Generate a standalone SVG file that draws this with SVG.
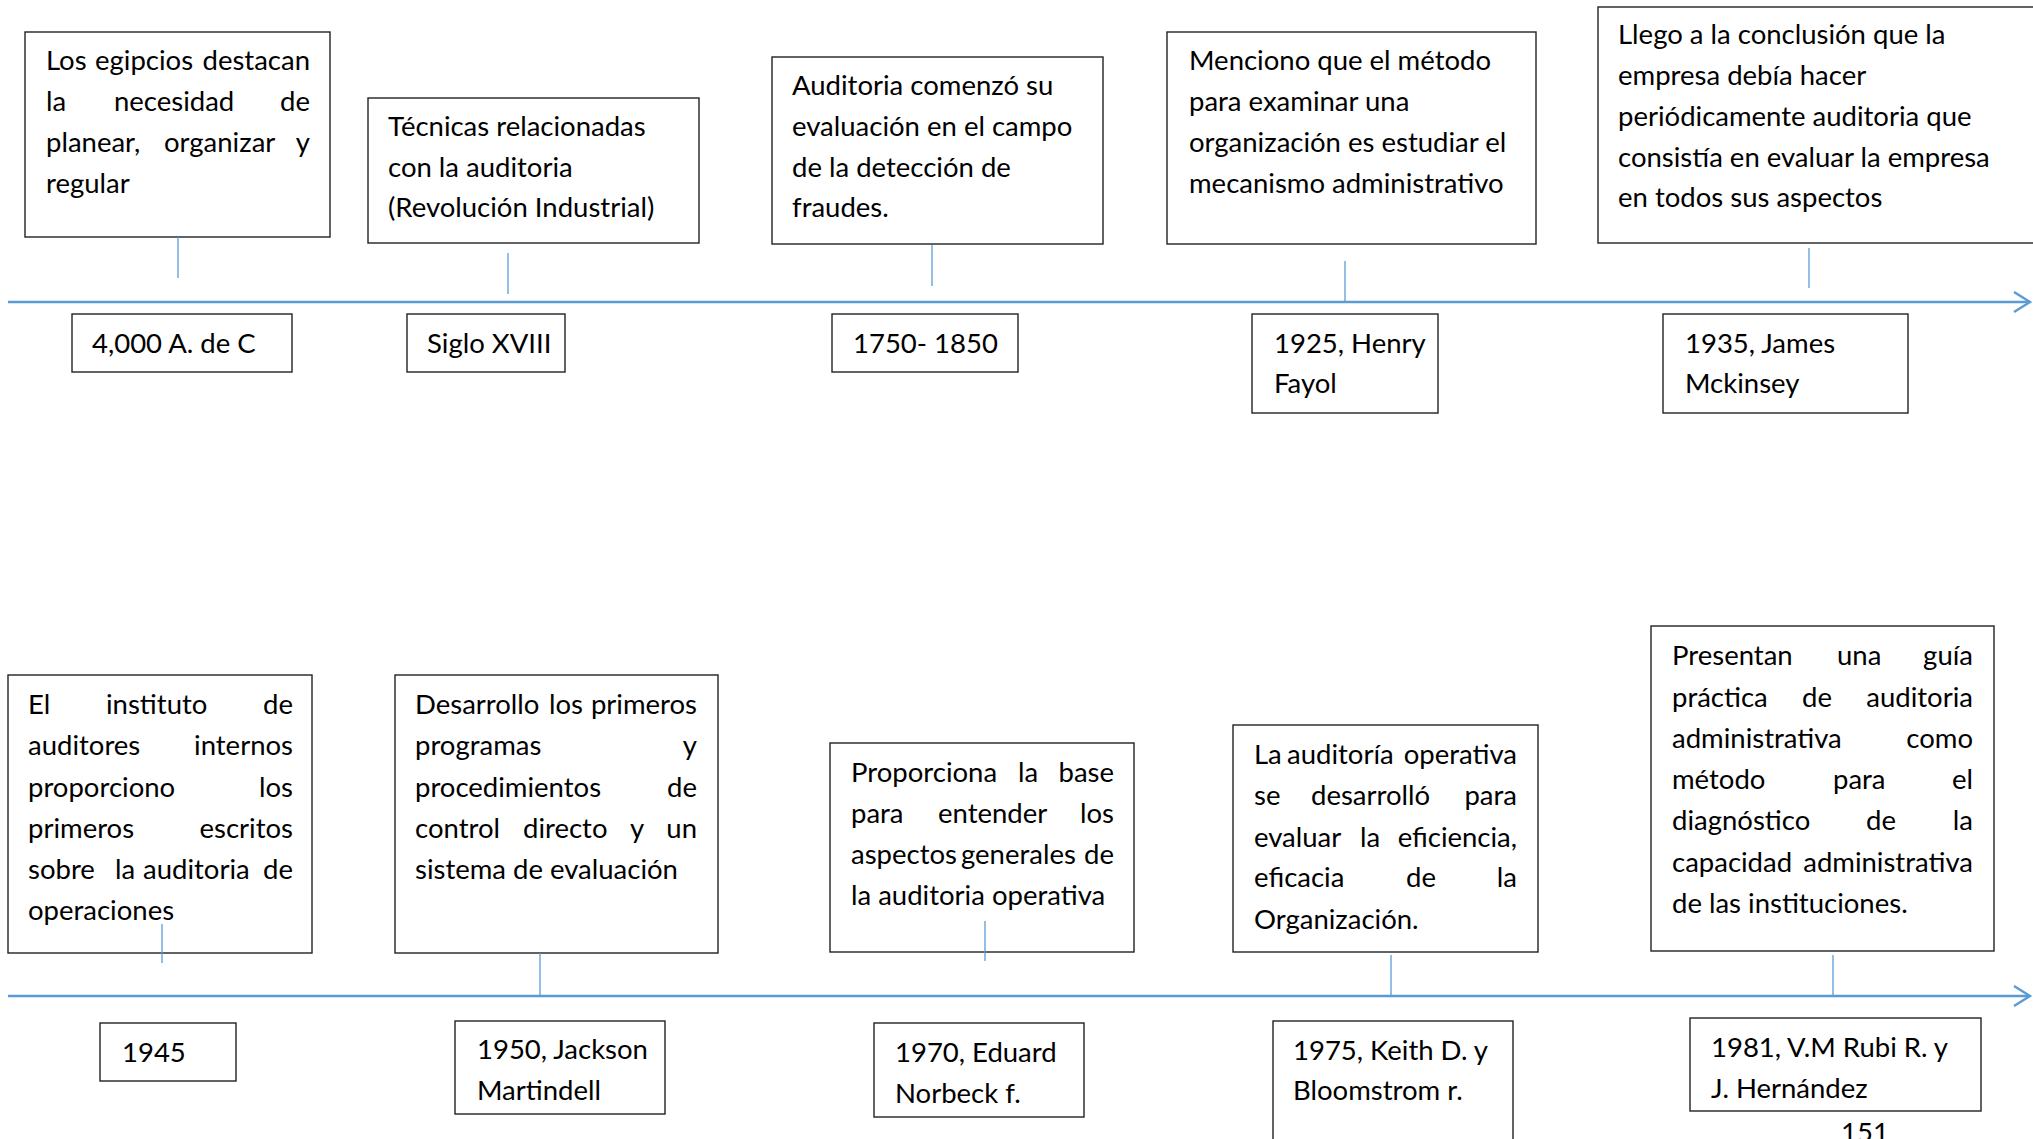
<svg xmlns="http://www.w3.org/2000/svg" width="2033" height="1139" viewBox="0 0 2033 1139">
<style>
.box{fill:#fff;stroke:#222;stroke-width:1.4}
text{font-family:Lato,"Open Sans","Liberation Sans",sans-serif;font-size:27.5px;fill:#000}
.e{text-anchor:end}
.m{text-anchor:middle}
.tl{stroke:#5B9BD5;stroke-width:2.6;fill:none}
.cn{stroke:#5B9BD5;stroke-width:1.3;fill:none}
</style>
<defs>
<marker id="arr" markerUnits="userSpaceOnUse" markerWidth="22" markerHeight="26" refX="18" refY="12" orient="auto">
<path d="M2,2 L18,12 L2,22" fill="none" stroke="#5B9BD5" stroke-width="2.4"/>
</marker>
</defs>
<rect width="2033" height="1139" fill="#fff"/>

<g id="n1">
<rect class="box" x="25" y="32" width="305" height="205"/>
<text x="46" y="70">Los</text><text x="95" y="70">egipcios</text><text class="e" x="310" y="70">destacan</text>
<text x="46" y="111">la</text><text x="114" y="111">necesidad</text><text class="e" x="310" y="111">de</text>
<text x="46" y="152">planear,</text><text x="164" y="152">organizar</text><text class="e" x="310" y="152">y</text>
<text x="46" y="193">regular</text>
</g>
<g id="n2">
<rect class="box" x="368" y="98" width="331" height="145"/>
<text x="388" y="136">Técnicas relacionadas</text>
<text x="388" y="177">con la auditoria</text>
<text x="388" y="217">(Revolución Industrial)</text>
</g>
<g id="n3">
<rect class="box" x="772" y="57" width="331" height="187"/>
<text x="792" y="95">Auditoria comenzó su</text>
<text x="792" y="136">evaluación en el campo</text>
<text x="792" y="177">de la detección de</text>
<text x="792" y="217">fraudes.</text>
</g>
<g id="n4">
<rect class="box" x="1167" y="32" width="369" height="212"/>
<text x="1189" y="70">Menciono que el método</text>
<text x="1189" y="111">para examinar una</text>
<text x="1189" y="152">organización es estudiar el</text>
<text x="1189" y="193">mecanismo administrativo</text>
</g>
<g id="n5">
<rect class="box" x="1598" y="7" width="445" height="236"/>
<text x="1618" y="44">Llego a la conclusión que la</text>
<text x="1618" y="85">empresa debía hacer</text>
<text x="1618" y="126">periódicamente auditoria que</text>
<text x="1618" y="167">consistía en evaluar la empresa</text>
<text x="1618" y="207">en todos sus aspectos</text>
</g>

<g id="d1">
<rect class="box" x="72" y="314" width="220" height="58"/>
<text x="92" y="353">4,000 A. de C</text>
</g>
<g id="d2">
<rect class="box" x="407" y="314" width="158" height="58"/>
<text x="427" y="353">Siglo XVIII</text>
</g>
<g id="d3">
<rect class="box" x="832" y="314" width="186" height="58"/>
<text x="853" y="353">1750- 1850</text>
</g>
<g id="d4">
<rect class="box" x="1252" y="314" width="186" height="99"/>
<text x="1274" y="353">1925, Henry</text>
<text x="1274" y="393">Fayol</text>
</g>
<g id="d5">
<rect class="box" x="1663" y="314" width="245" height="99"/>
<text x="1685" y="353">1935, James</text>
<text x="1685" y="393">Mckinsey</text>
</g>

<g id="n6">
<rect class="box" x="8" y="675" width="304" height="278"/>
<text x="28" y="714">El</text><text x="106" y="714">instituto</text><text class="e" x="293" y="714">de</text>
<text x="28" y="755">auditores</text><text class="e" x="293" y="755">internos</text>
<text x="28" y="797">proporciono</text><text class="e" x="293" y="797">los</text>
<text x="28" y="838">primeros</text><text class="e" x="293" y="838">escritos</text>
<text x="28" y="879">sobre</text><text x="115" y="879">la</text><text x="143" y="879">auditoria</text><text class="e" x="293" y="879">de</text>
<text x="28" y="920">operaciones</text>
</g>
<g id="n7">
<rect class="box" x="395" y="675" width="323" height="278"/>
<text x="415" y="714">Desarrollo</text><text class="m" x="566" y="714">los</text><text class="e" x="697" y="714">primeros</text>
<text x="415" y="755">programas</text><text class="e" x="697" y="755">y</text>
<text x="415" y="797">procedimientos</text><text class="e" x="697" y="797">de</text>
<text x="415" y="838">control</text><text x="523" y="838">directo</text><text x="630" y="838">y</text><text class="e" x="697" y="838">un</text>
<text x="415" y="879">sistema de evaluación</text>
</g>
<g id="n8">
<rect class="box" x="830" y="743" width="304" height="209"/>
<text x="851" y="782">Proporciona</text><text x="1018" y="782">la</text><text class="e" x="1114" y="782">base</text>
<text x="851" y="823">para</text><text x="938" y="823">entender</text><text class="e" x="1114" y="823">los</text>
<text x="851" y="864">aspectos</text><text x="961" y="864">generales</text><text class="e" x="1114" y="864">de</text>
<text x="851" y="905">la auditoria operativa</text>
</g>
<g id="n9">
<rect class="box" x="1233" y="725" width="305" height="227"/>
<text x="1254" y="764">La</text><text x="1287" y="764">auditoría</text><text class="e" x="1517" y="764">operativa</text>
<text x="1254" y="805">se</text><text x="1311" y="805">desarrolló</text><text class="e" x="1517" y="805">para</text>
<text x="1254" y="847">evaluar</text><text x="1360" y="847">la</text><text class="e" x="1517" y="847">eficiencia,</text>
<text x="1254" y="887">eficacia</text><text x="1406" y="887">de</text><text class="e" x="1517" y="887">la</text>
<text x="1254" y="929">Organización.</text>
</g>
<g id="n10">
<rect class="box" x="1651" y="626" width="343" height="325"/>
<text x="1672" y="665">Presentan</text><text x="1837" y="665">una</text><text class="e" x="1973" y="665">guía</text>
<text x="1672" y="707">práctica</text><text x="1802" y="707">de</text><text class="e" x="1973" y="707">auditoria</text>
<text x="1672" y="748">administrativa</text><text class="e" x="1973" y="748">como</text>
<text x="1672" y="789">método</text><text x="1833" y="789">para</text><text class="e" x="1973" y="789">el</text>
<text x="1672" y="830">diagnóstico</text><text x="1866" y="830">de</text><text class="e" x="1973" y="830">la</text>
<text x="1672" y="872">capacidad</text><text class="e" x="1973" y="872">administrativa</text>
<text x="1672" y="913">de las instituciones.</text>
</g>

<g id="d6">
<rect class="box" x="100" y="1023" width="136" height="58"/>
<text x="122" y="1062">1945</text>
</g>
<g id="d7">
<rect class="box" x="455" y="1021" width="210" height="93"/>
<text x="477" y="1059">1950, Jackson</text>
<text x="477" y="1100">Martindell</text>
</g>
<g id="d8">
<rect class="box" x="874" y="1023" width="210" height="94"/>
<text x="895" y="1062">1970, Eduard</text>
<text x="895" y="1103">Norbeck f.</text>
</g>
<g id="d9">
<rect class="box" x="1273" y="1021" width="240" height="130"/>
<text x="1293" y="1060">1975, Keith D. y</text>
<text x="1293" y="1100">Bloomstrom r.</text>
</g>
<g id="d10">
<rect class="box" x="1690" y="1018" width="291" height="93"/>
<text x="1711" y="1057">1981, V.M Rubi R. y</text>
<text x="1711" y="1098">J. Hernández</text>
</g>

<g id="connectors">
<line class="tl" x1="8" y1="302" x2="2030" y2="302" marker-end="url(#arr)"/>
<line class="tl" x1="8" y1="996" x2="2030" y2="996" marker-end="url(#arr)"/>
<line class="cn" x1="178" y1="237" x2="178" y2="278"/>
<line class="cn" x1="508" y1="253" x2="508" y2="294"/>
<line class="cn" x1="932" y1="245" x2="932" y2="286"/>
<line class="cn" x1="1345" y1="261" x2="1345" y2="302"/>
<line class="cn" x1="1809" y1="248" x2="1809" y2="288"/>
<line class="cn" x1="162" y1="924" x2="162" y2="963"/>
<line class="cn" x1="540" y1="953" x2="540" y2="996"/>
<line class="cn" x1="985" y1="921" x2="985" y2="961"/>
<line class="cn" x1="1391" y1="955" x2="1391" y2="996"/>
<line class="cn" x1="1833" y1="955" x2="1833" y2="996"/>
</g>

<text x="1841" y="1142">151</text>
</svg>
